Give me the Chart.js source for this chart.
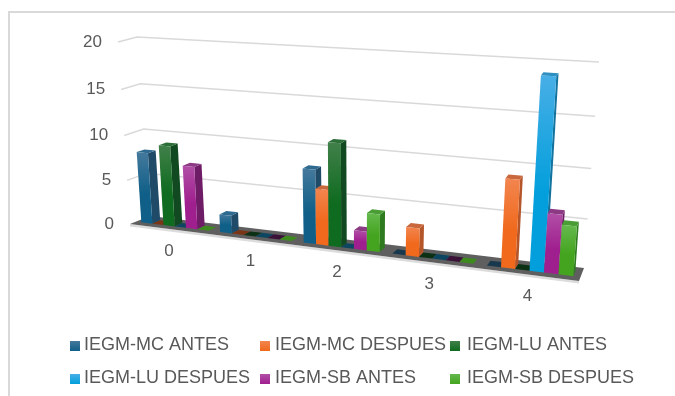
<html>
<head>
<meta charset="UTF-8"/>
<style>
html, body {
 width: 100%;
 height: 100%;
 margin: 0px;
 border: 0;
 overflow: hidden;
 display: block;
 background-color: #ffffff;
}
#myChart {
 display: block;
 filter: blur(0.4px); /* the reference is a soft, scaled up picture */
}
</style>
<script src="https://cdn.jsdelivr.net/npm/chart.js@4"></script>
<script type="text/javascript">
var categories = ['0', '1', '2', '3', '4'];
var seriesNames = ['IEGM-MC ANTES', 'IEGM-MC DESPUES', 'IEGM-LU ANTES', 'IEGM-LU DESPUES', 'IEGM-SB ANTES', 'IEGM-SB DESPUES'];
var mcAntes = [8, 2, 8, 0, 0];
var mcDespues = [0, 0, 6, 3, 9];
var luAntes = [9, 0, 11, 0, 0];
var luDespues = [0, 0, 0, 0, 19];
var sbAntes = [7, 0, 2, 0, 6];
var sbDespues = [0, 0, 4, 0, 5];
var seriesValues = [mcAntes, mcDespues, luAntes, luDespues, sbAntes, sbDespues];
var yTicks = [0, 5, 10, 15, 20];

// face colours: light top of gradient, bottom of gradient, side, top, flat tile on floor
var faceLight = ['#44799c', '#f2854f', '#41804a', '#48aee6', '#b14fa6', '#64b94d'];
var faceDark = ['#0f5f88', '#f0691c', '#0e6b1f', '#029fdc', '#a01f8f', '#44a41f'];
var sideColors = ['#1f4a68', '#b5552a', '#114a20', '#13739f', '#6e1c66', '#2e7a1e'];
var topColors = ['#2f6a90', '#c9683c', '#2c6e38', '#2f8fc0', '#8c3a84', '#4a9c35'];
var tileColors = ['#17384d', '#7a3516', '#0c3014', '#0d4660', '#3a1238', '#3f8a1e'];

// the plot seen in perspective: corners of the front and the back plane
var frontPlane = [[130, 224], [579, 281], [595, 70], [118, 42]];
var backPlane = [[150, 216], [584, 268], [599, 62], [137, 37]];
var barFront = 0.3, barBack = 0.7;

function squareToQuad(q) {
    var x0 = q[0][0], y0 = q[0][1], x1 = q[1][0], y1 = q[1][1];
    var x2 = q[2][0], y2 = q[2][1], x3 = q[3][0], y3 = q[3][1];
    var dx1 = x1 - x2, dx2 = x3 - x2, dx3 = x0 - x1 + x2 - x3;
    var dy1 = y1 - y2, dy2 = y3 - y2, dy3 = y0 - y1 + y2 - y3;
    var det = dx1 * dy2 - dx2 * dy1;
    var g = (dx3 * dy2 - dx2 * dy3) / det;
    var h = (dx1 * dy3 - dx3 * dy1) / det;
    return function(s, t) {
        var d = g * s + h * t + 1;
        return [
            ((x1 - x0 + g * x1) * s + (x3 - x0 + h * x3) * t + x0) / d,
            ((y1 - y0 + g * y1) * s + (y3 - y0 + h * y3) * t + y0) / d
        ];
    };
}

var mapFront = squareToQuad(frontPlane);
var mapBack = squareToQuad(backPlane);

function project(s, t, w) {
    var a = mapFront(s, t), b = mapBack(s, t);
    return [a[0] + (b[0] - a[0]) * w, a[1] + (b[1] - a[1]) * w];
}

function poly(ctx, pts, fill) {
    ctx.beginPath();
    ctx.moveTo(pts[0][0], pts[0][1]);
    for (var i = 1; i < pts.length; i++) ctx.lineTo(pts[i][0], pts[i][1]);
    ctx.closePath();
    ctx.fillStyle = fill;
    ctx.fill();
}

function drawBar(ctx, area, bar, i) {
    var s0 = (bar.x - bar.width / 2 - area.left) / area.width;
    var s1 = (bar.x + bar.width / 2 - area.left) / area.width;
    var t0 = (area.bottom - bar.base) / area.height;
    var t1 = (area.bottom - bar.y) / area.height;
    var f = barFront, b = barBack;
    if (t1 - t0 < 0.001) {
        poly(ctx, [project(s0, 0, f), project(s1, 0, f), project(s1, 0, b), project(s0, 0, b)], tileColors[i]);
        return;
    }
    poly(ctx, [project(s1, t0, f), project(s1, t0, b), project(s1, t1, b), project(s1, t1, f)], sideColors[i]);
    poly(ctx, [project(s0, t1, f), project(s1, t1, f), project(s1, t1, b), project(s0, t1, b)], topColors[i]);
    var bottom = project(s0, t0, f), top = project(s0, t1, f);
    var grad = ctx.createLinearGradient(0, top[1], 0, bottom[1]);
    grad.addColorStop(0, faceLight[i]);
    grad.addColorStop(0.6, faceDark[i]);
    grad.addColorStop(1, faceDark[i]);
    poly(ctx, [bottom, project(s1, t0, f), project(s1, t1, f), top], grad);
}

var perspectivePlugin = {
    id: 'perspective',
    beforeDatasetsDraw: function(chart) {
        var ctx = chart.ctx, area = chart.chartArea;
        var yScale = chart.scales.y, xScale = chart.scales.x;
        ctx.save();

        // frame, only left and top are inside the picture
        ctx.strokeStyle = '#d9d9d9';
        ctx.lineWidth = 2;
        ctx.beginPath();
        ctx.moveTo(9, 396);
        ctx.lineTo(9, 12);
        ctx.lineTo(675, 12);
        ctx.stroke();

        // gridlines on the wall and the side
        ctx.lineWidth = 1.5;
        yScale.ticks.forEach(function(tick) {
            if (tick.value == 0) return;
            var t = (area.bottom - yScale.getPixelForValue(tick.value)) / area.height;
            var a = project(0, t, 0), b = project(0, t, 1), c = project(1, t, 1);
            ctx.beginPath();
            ctx.moveTo(a[0], a[1]);
            ctx.lineTo(b[0], b[1]);
            ctx.lineTo(c[0], c[1]);
            ctx.stroke();
        });

        // floor with its light lip
        var lip = 2.5;
        var f0 = project(0, 0, 0), f1 = project(1, 0, 0);
        poly(ctx, [f0, f1, [f1[0], f1[1] + lip], [f0[0], f0[1] + lip]], '#dcdcdc');
        poly(ctx, [f0, f1, project(1, 0, 1), project(0, 0, 1)], '#5f5f5f');

        // bars, left to right so that each one covers the side of the last
        for (var c = 0; c < categories.length; c++) {
            for (var i = 0; i < chart.data.datasets.length; i++) {
                drawBar(ctx, area, chart.getDatasetMeta(i).data[c], i);
            }
        }

        // tick labels
        ctx.fillStyle = '#595959';
        ctx.font = '17px "Liberation Sans"';
        ctx.textAlign = 'right';
        ctx.textBaseline = 'middle';
        yScale.ticks.forEach(function(tick) {
            var t = (area.bottom - yScale.getPixelForValue(tick.value)) / area.height;
            var p = project(0, t, 0);
            ctx.fillText(tick.label, p[0] - 16, p[1]);
        });
        ctx.textAlign = 'center';
        categories.forEach(function(label, c) {
            var s = (xScale.getPixelForValue(c) - area.left) / area.width;
            var p = project(s, 0, 0);
            ctx.fillText(label, p[0], p[1] + 22);
        });

        // legend in a 3x2 grid
        var swatchX = [70, 260, 450], textX = [84, 275, 467], rowY = [345, 378];
        ctx.textAlign = 'left';
        ctx.font = '18px "Liberation Sans"';
        chart.data.datasets.forEach(function(ds, i) {
            var col = i % 3, y = rowY[Math.floor(i / 3)];
            var grad = ctx.createLinearGradient(0, y - 4, 0, y + 6);
            grad.addColorStop(0, faceLight[i]);
            grad.addColorStop(1, faceDark[i]);
            ctx.fillStyle = grad;
            ctx.fillRect(swatchX[col], y - 4, 10, 10);
            ctx.fillStyle = '#595959';
            ctx.fillText(ds.label, textX[col], y);
        });

        ctx.restore();
        return false;
    }
};

function init() {
    var datasets = [];
    for (var i = 0; i < seriesNames.length; i++) {
        datasets.push({ label: seriesNames[i], data: seriesValues[i], backgroundColor: faceDark[i] });
    }
    new Chart(document.getElementById('myChart').getContext('2d'), {
        type: 'bar',
        data: { labels: categories, datasets: datasets },
        plugins: [perspectivePlugin],
        options: {
            responsive: false,
            animation: false,
            layout: { padding: { left: 130, right: 95, top: 40, bottom: 115 } },
            plugins: { legend: { display: false }, tooltip: { enabled: false } },
            datasets: { bar: { categoryPercentage: 0.86, barPercentage: 1 } },
            scales: {
                x: { display: false },
                y: { display: false, min: 0, max: 20, afterBuildTicks: function(axis) {
                    axis.ticks = yTicks.map(function(v) { return { value: v, label: String(v) }; });
                } }
            }
        }
    });
}
</script>
<title>Chart</title>
</head>

<body onload="JavaScript:init();">
<canvas id="myChart" width="675" height="396"></canvas>
</body>
</html>
